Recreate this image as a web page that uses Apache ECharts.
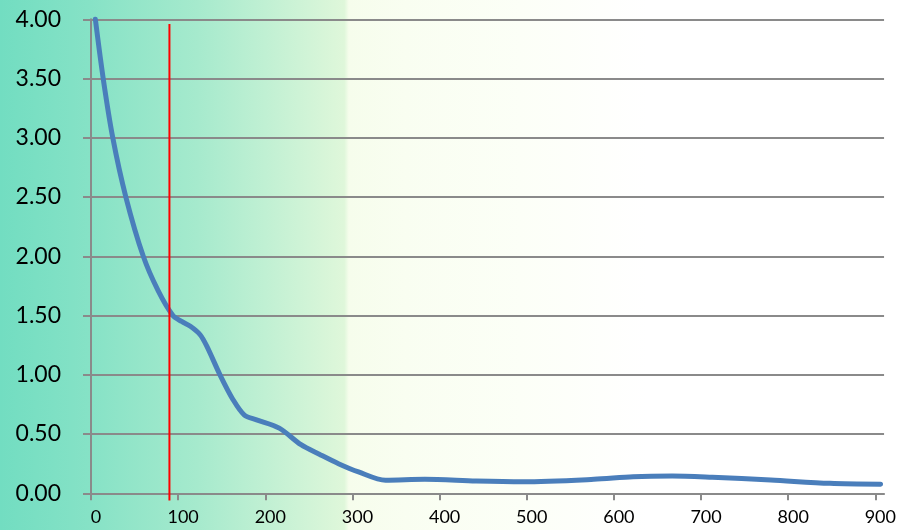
<!DOCTYPE html>
<html>
<head>
<meta charset="utf-8">
<script src="https://cdn.jsdelivr.net/npm/echarts@6/dist/echarts.min.js"></script>
<style>
html,body{margin:0;padding:0;}
#chart{width:899px;height:530px;
background:
 linear-gradient(90deg, #72ddc1 0%, #86e2c6 10%, #a6eacd 22%, #c9f2d5 32%, #dff7da 38.3%, #f6fdec 38.8%, #f9fef1 45%, #fcfff7 58%, #ffffff 72%);
}
</style>
</head>
<body>
<div id="chart"></div>
<script>
var xValues = [5, 14, 25, 40, 60, 77, 94, 104, 114, 125, 133, 148, 163, 176, 190, 216, 241, 262, 284, 307, 338, 383, 442, 496, 577, 622, 667, 713, 780, 848, 906];
var yValues = [4.0, 3.5, 3.0, 2.5, 2.0, 1.71, 1.5, 1.45, 1.41, 1.34, 1.24, 1.0, 0.79, 0.66, 0.62, 0.55, 0.41, 0.33, 0.25, 0.18, 0.11, 0.118, 0.104, 0.098, 0.118, 0.14, 0.146, 0.135, 0.112, 0.084, 0.076];
var markerX = [90, 90];
var markerY = [-0.06, 3.96];
var xTicks = [0, 100, 200, 300, 400, 500, 600, 700, 800, 900];

var chart = echarts.init(document.getElementById('chart'), null, {renderer: 'canvas'});
var gray = '#8a8a8a';
chart.setOption({
  animation: false,
  grid: {left: 91, right: 14, top: 19.3, bottom: 36.7, containLabel: false},
  xAxis: {
    type: 'value', min: 0, max: 910, interval: 100,
    axisLine: {show: true, onZero: false, lineStyle: {color: gray, width: 2}},
    axisTick: {show: true, length: 7, customValues: xTicks, lineStyle: {color: gray, width: 2}},
    axisLabel: {customValues: xTicks, margin: 15, padding: [0, 0, 0, 10], fontFamily: 'Lato', fontSize: 18, color: '#000'},
    splitLine: {show: false}
  },
  yAxis: {
    type: 'value', min: 0, max: 4, interval: 0.5,
    axisLine: {show: true, lineStyle: {color: gray, width: 2}},
    axisTick: {show: true, length: 8, lineStyle: {color: gray, width: 2}},
    axisLabel: {margin: 30, fontFamily: 'Lato', fontSize: 23, color: '#000',
      formatter: function (v) { return v.toFixed(2); }},
    splitLine: {show: true, lineStyle: {color: gray, width: 2}}
  },
  series: [
    {
      type: 'line',
      data: xValues.map(function (x, i) { return [x, yValues[i]]; }),
      smooth: 0.3,
      showSymbol: false,
      clip: false,
      lineStyle: {color: '#4a7ebb', width: 5, cap: 'round', join: 'round'},
      z: 3
    },
    {
      type: 'line',
      data: markerX.map(function (x, i) { return [x, markerY[i]]; }),
      showSymbol: false,
      clip: false,
      lineStyle: {color: '#ff0000', width: 2},
      z: 4
    }
  ]
});
</script>
</body>
</html>
